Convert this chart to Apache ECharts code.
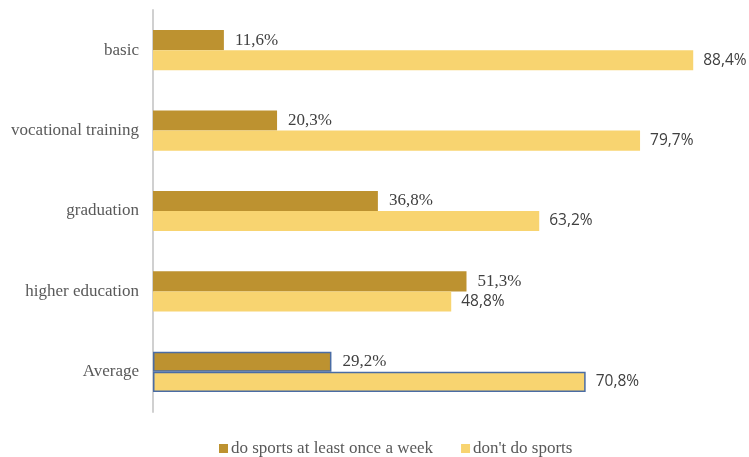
<!DOCTYPE html>
<html><head><meta charset="utf-8">
<script src="https://cdn.jsdelivr.net/npm/echarts@6/dist/echarts.min.js"></script>
<style>html,body{margin:0;padding:0;background:#fff}#c{width:749px;height:457px}</style>
</head><body><div id="c"></div>
<script>
const categories = ['basic', 'vocational training', 'graduation', 'higher education', 'Average'];
const seriesNames = ['do sports at least once a week', "don't do sports"];
const doSports = [11.6, 20.3, 36.8, 51.3, 29.2];
const noSports = [88.4, 79.7, 63.2, 48.8, 70.8];
const highlightCategory = 'Average';

const fmt = p => p.value.toFixed(1).replace('.', ',') + '%';
const mk = arr => arr.map((v, i) => categories[i] === highlightCategory
  ? { value: v, itemStyle: { borderColor: '#4A6CA4', borderWidth: 1.5 } } : v);

const chart = echarts.init(document.getElementById('c'));
chart.setOption({
  animation: false,
  grid: { left: 153, top: 10, width: 550, height: 402 },
  xAxis: { type: 'value', min: 0, max: 90, show: false },
  yAxis: {
    type: 'category', data: categories, inverse: true,
    axisLine: { lineStyle: { color: '#D0D0D0', width: 2 } },
    axisTick: { show: false },
    axisLabel: { fontFamily: 'Liberation Serif', fontSize: 17, color: '#595959', margin: 14 }
  },
  legend: {
    left: 214, top: 435, itemWidth: 9, itemHeight: 9, itemGap: 28,
    icon: 'rect',
    textStyle: { fontFamily: 'Liberation Serif', fontSize: 17, color: '#595959', padding: [0,0,0,-2] }
  },
  series: [
    { name: seriesNames[0], type: 'bar', data: mk(doSports), barCategoryGap: '50%', barGap: '0%',
      itemStyle: { color: '#BD9230' },
      label: { show: true, position: 'right', distance: 11, formatter: fmt,
        fontFamily: 'Liberation Serif', fontSize: 17, color: '#404040' } },
    { name: seriesNames[1], type: 'bar', data: mk(noSports),
      itemStyle: { color: '#F8D470' },
      label: { show: true, position: 'right', distance: 10, formatter: fmt,
        fontFamily: 'Open Sans', fontSize: 15.5, color: '#404040', padding: [3,0,0,0] } }
  ]
});
</script></body></html>
